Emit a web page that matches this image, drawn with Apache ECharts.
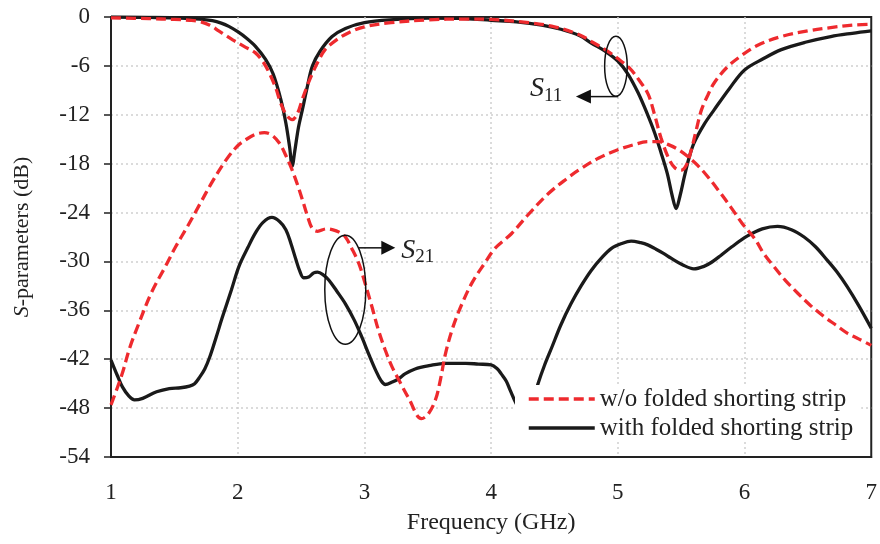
<!DOCTYPE html>
<html><head><meta charset="utf-8">
<script src="https://cdn.jsdelivr.net/npm/echarts@6/dist/echarts.min.js"></script>
<style>html,body{margin:0;padding:0;background:#fff}#c{width:880px;height:544px}</style>
</head><body><div id="c"></div>
<script>
// ---- data ----
const xTicks = [1,2,3,4,5,6,7];
const yTicks = [0,-6,-12,-18,-24,-30,-36,-42,-48,-54];
const legendNames = ['w/o folded shorting strip','with folded shorting strip'];

const s11WithX = [1.0,1.3,1.55,1.7,1.8,1.87,1.93,2.0,2.07,2.14,2.22,2.28,2.34,2.38,2.41,2.43,2.45,2.48,2.51,2.55,2.59,2.65,2.745,2.85,3.0,3.2,3.5,3.8,4.0,4.2,4.4,4.55,4.7,4.79,4.9,5.0,5.08,5.16,5.23,5.29,5.34,5.39,5.43,5.46,5.49,5.525,5.56,5.6,5.68,5.76,5.88,6.0,6.15,6.29,6.48,6.68,6.85,7.0];
const s11WithY = [0,-0.05,-0.12,-0.25,-0.45,-0.75,-1.15,-1.8,-2.6,-3.6,-5.2,-7.0,-10.1,-13,-16,-18.3,-16.5,-13.5,-11.4,-8.5,-6,-4.2,-2.4,-1.4,-0.7,-0.35,-0.15,-0.2,-0.4,-0.6,-1.0,-1.5,-2.3,-3.2,-4.2,-5.4,-7.0,-9.3,-11.8,-14.2,-16.6,-19.2,-22,-23.5,-22,-19.6,-17.4,-15.5,-13.2,-11.4,-8.8,-6.5,-5.1,-4.0,-3.1,-2.4,-2.0,-1.7];

const s11WoX = [1.0,1.3,1.5,1.62,1.7,1.78,1.85,1.91,1.96,2.05,2.14,2.2,2.25,2.3,2.34,2.38,2.43,2.47,2.51,2.55,2.59,2.64,2.69,2.78,2.88,3.0,3.21,3.5,3.8,4.0,4.3,4.5,4.7,4.79,4.9,5.0,5.1,5.17,5.24,5.29,5.34,5.4,5.45,5.5,5.54,5.58,5.62,5.66,5.71,5.76,5.86,5.97,6.1,6.29,6.5,6.68,6.85,7.0];
const s11WoY = [-0.1,-0.2,-0.3,-0.4,-0.55,-1.0,-1.7,-2.3,-2.8,-3.6,-4.4,-5.5,-6.9,-8.7,-10.6,-11.9,-12.6,-11.9,-10.1,-8.4,-6.9,-5.3,-4.0,-2.8,-1.9,-1.2,-0.7,-0.35,-0.25,-0.3,-0.7,-1.2,-2.2,-3.0,-4.0,-5.1,-6.4,-7.8,-9.5,-12.0,-14.8,-17.3,-18.5,-18.8,-18.2,-16.3,-13.8,-11.4,-9.6,-8.1,-6.2,-4.8,-3.5,-2.4,-1.7,-1.3,-1.0,-0.9];

const s21WoX = [1.0,1.05,1.09,1.15,1.22,1.32,1.43,1.51,1.6,1.7,1.8,1.91,2.0,2.06,2.14,2.21,2.27,2.33,2.38,2.43,2.47,2.51,2.55,2.59,2.63,2.7,2.745,2.8,2.85,2.9,2.955,3.0,3.06,3.11,3.165,3.22,3.27,3.35,3.45,3.5,3.56,3.6,3.64,3.7,3.77,3.85,3.95,4.03,4.16,4.29,4.45,4.6,4.69,4.85,5.0,5.12,5.24,5.32,5.39,5.47,5.55,5.63,5.71,5.8,5.89,5.98,6.08,6.15,6.23,6.32,6.42,6.52,6.63,6.72,6.81,6.9,7.0];
const s21WoY = [-47.6,-45.5,-43.7,-40.5,-37.6,-33.8,-30.6,-28.2,-25.8,-23.0,-20.2,-17.5,-15.8,-15.1,-14.4,-14.2,-14.5,-15.5,-17,-18.8,-20.5,-22.4,-24.4,-26.0,-26.3,-26.0,-26.1,-26.4,-27.0,-28.4,-30.2,-32.4,-35.6,-38.4,-40.9,-43.0,-44.5,-46.8,-49.3,-48.8,-47.0,-44.5,-41.3,-38.0,-35.2,-32.6,-30.2,-28.4,-26.6,-24.3,-21.7,-19.8,-18.8,-17.3,-16.3,-15.7,-15.3,-15.3,-15.6,-16.2,-17.1,-18.2,-19.6,-21.4,-23.3,-25.3,-27.2,-29.0,-30.6,-32.3,-33.9,-35.4,-36.8,-37.8,-38.8,-39.5,-40.3];

const s21WithX = [1.0,1.05,1.09,1.14,1.185,1.25,1.36,1.46,1.55,1.62,1.66,1.7,1.74,1.78,1.83,1.88,1.95,2.01,2.08,2.14,2.2,2.27,2.33,2.38,2.42,2.46,2.49,2.52,2.56,2.6,2.63,2.68,2.72,2.78,2.85,2.92,2.98,3.04,3.09,3.13,3.165,3.22,3.27,3.32,3.4,3.51,3.64,3.8,3.9,4.0,4.05,4.08,4.12,4.15,4.2,4.26,4.32,4.37,4.42,4.48,4.55,4.63,4.71,4.79,4.87,4.95,5.03,5.105,5.18,5.24,5.29,5.36,5.42,5.51,5.6,5.68,5.74,5.81,5.9,6.02,6.14,6.26,6.37,6.47,6.56,6.65,6.73,6.81,6.9,7.0];
const s21WithY = [-42.1,-44.0,-45.4,-46.5,-47.0,-46.8,-46.0,-45.6,-45.5,-45.3,-45.0,-44.2,-43.2,-41.7,-39.3,-36.8,-33.5,-30.6,-28.3,-26.5,-25.2,-24.6,-25.1,-26.1,-27.8,-29.8,-31.2,-32.0,-31.9,-31.4,-31.3,-31.7,-32.3,-33.6,-35.2,-37.2,-39.3,-41.6,-43.4,-44.6,-45.1,-44.8,-44.4,-43.8,-43.2,-42.8,-42.5,-42.5,-42.6,-42.7,-43.2,-43.8,-44.7,-45.8,-47.5,-48.7,-47.5,-45.0,-42.8,-40.5,-37.8,-35.2,-33.0,-31.1,-29.6,-28.4,-27.8,-27.5,-27.7,-28.0,-28.4,-29.0,-29.6,-30.4,-30.9,-30.6,-30.1,-29.3,-28.2,-26.9,-26.0,-25.7,-26.1,-27.0,-28.2,-29.8,-31.3,-33.1,-35.4,-38.2];

// annotation anchors in data space
const s11Ellipse = [4.985, -6.05];
const s21Ellipse = [2.849, -33.46];

const pairs = (xs, ys) => xs.map((x, i) => [x, ys[i]]);
const RED = '#ee2a2e', BLACK = '#1a1a1a';
const FONT = 'Liberation Serif';

const chart = echarts.init(document.getElementById('c'));
const lineBase = { type: 'line', symbol: 'none', smooth: 0.35, animation: false };
const gridLine = { show: true, showMinLine: false, showMaxLine: false, lineStyle: { color: '#cfcfcf', width: 1.5, type: [2, 3] } };
const option = {
  animation: false,
  backgroundColor: '#fff',
  grid: { left: 111, right: 6, top: 17, bottom: 87, show: true, borderColor: '#222', borderWidth: 2, backgroundColor: 'transparent' },
  xAxis: {
    type: 'value', min: xTicks[0], max: xTicks[xTicks.length-1], interval: 1,
    name: 'Frequency (GHz)', nameLocation: 'middle', nameGap: 54,
    nameTextStyle: { fontFamily: FONT, fontSize: 24, color: '#222' },
    axisLine: { onZero: false, lineStyle: { color: '#222', width: 2 } },
    axisTick: { show: false },
    axisLabel: { fontFamily: FONT, fontSize: 23, color: '#222', margin: 24 },
    splitLine: gridLine
  },
  yAxis: {
    type: 'value', min: yTicks[yTicks.length-1], max: yTicks[0], interval: 6,
    name: '{i|S}-parameters (dB)', nameLocation: 'middle', nameGap: 78,
    nameTextStyle: { fontFamily: FONT, fontSize: 22, color: '#222', rich: { i: { fontFamily: FONT, fontSize: 22, fontStyle: 'italic', color: '#222' } } },
    axisLine: { show: true, lineStyle: { color: '#222', width: 2 } },
    axisTick: { show: true, inside: false, length: 7, lineStyle: { color: '#222', width: 1.5 } },
    axisLabel: { fontFamily: FONT, fontSize: 23, color: '#222', margin: 21 },
    splitLine: gridLine
  },
  legend: {
    data: legendNames, orient: 'vertical', left: 515, top: 385,
    itemWidth: 66, itemHeight: 14, itemGap: 3, padding: [1, 8, 1, 12],
    backgroundColor: '#fff', z: 10,
    itemStyle: { opacity: 0 },
    lineStyle: { width: 3.5 },
    textStyle: { fontFamily: FONT, fontSize: 25, color: '#222', lineHeight: 26 }
  },
  series: [
    Object.assign({}, lineBase, { name: legendNames[1], data: pairs(s11WithX, s11WithY), lineStyle: { color: BLACK, width: 3.3 }, itemStyle: { color: BLACK } }),
    Object.assign({}, lineBase, { name: legendNames[1], data: pairs(s21WithX, s21WithY), lineStyle: { color: BLACK, width: 3.3 }, itemStyle: { color: BLACK } }),
    Object.assign({}, lineBase, { name: legendNames[0], data: pairs(s11WoX, s11WoY), lineStyle: { color: RED, width: 3.3, type: [10, 5] }, itemStyle: { color: RED } }),
    Object.assign({}, lineBase, { name: legendNames[0], data: pairs(s21WoX, s21WoY), lineStyle: { color: RED, width: 3.3, type: [10, 5] }, itemStyle: { color: RED } })
  ]
};
chart.setOption(option);

const g = [];
function ellipseAt(center, rx, ry) {
  const c = chart.convertToPixel({ gridIndex: 0 }, center);
  g.push({ type: 'ellipse', shape: { cx: c[0], cy: c[1], rx: rx, ry: ry }, style: { fill: 'none', stroke: '#111', lineWidth: 1.5 }, z: 20 });
  return c;
}
// S11 annotation
(function () {
  const c = ellipseAt(s11Ellipse, 11.3, 30);
  const y = c[1] + 30.3, x0 = c[0] + 2, tip = c[0] - 40;
  g.push({ type: 'line', shape: { x1: x0, y1: y, x2: tip + 12, y2: y }, style: { stroke: '#111', lineWidth: 1.5 }, z: 20 });
  g.push({ type: 'polygon', shape: { points: [[tip, y], [tip + 15, y - 7], [tip + 15, y + 7]] }, style: { fill: '#111' }, z: 20 });
  g.push({ type: 'text', x: tip - 46, y: y - 8, style: { text: 'S', fontFamily: FONT, fontStyle: 'italic', fontSize: 28, fill: '#222', verticalAlign: 'middle', align: 'left' }, z: 20 });
  g.push({ type: 'text', x: tip - 32, y: y - 1, style: { text: '11', fontFamily: FONT, fontSize: 19, fill: '#222', verticalAlign: 'middle', align: 'left' }, z: 20 });
})();
// S21 annotation
(function () {
  const c = ellipseAt(s21Ellipse, 20.5, 54.5);
  const y = c[1] - 41.8, x0 = c[0] + 13, tip = c[0] + 50;
  g.push({ type: 'line', shape: { x1: x0, y1: y, x2: tip - 12, y2: y }, style: { stroke: '#111', lineWidth: 1.5 }, z: 20 });
  g.push({ type: 'polygon', shape: { points: [[tip, y], [tip - 14, y - 7], [tip - 14, y + 7]] }, style: { fill: '#111' }, z: 20 });
  g.push({ type: 'text', x: tip + 6, y: y + 2.5, style: { text: 'S', fontFamily: FONT, fontStyle: 'italic', fontSize: 28, fill: '#222', verticalAlign: 'middle', align: 'left' }, z: 20 });
  g.push({ type: 'text', x: tip + 20, y: y + 9, style: { text: '21', fontFamily: FONT, fontSize: 19, fill: '#222', verticalAlign: 'middle', align: 'left' }, z: 20 });
})();
chart.setOption({ graphic: g });
</script>
</body></html>
